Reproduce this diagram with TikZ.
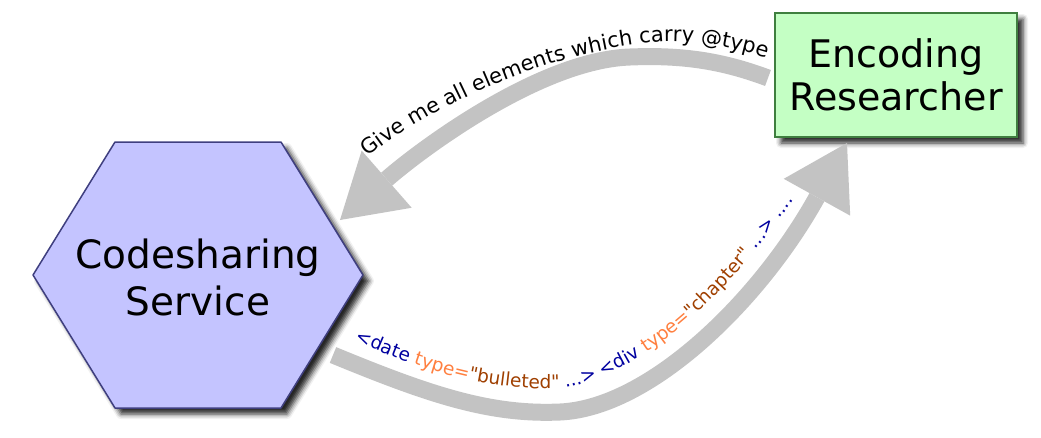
\documentclass[tikz,border=0pt]{standalone}
\usepackage{fontspec}
\setmainfont{DejaVu Sans}
\newfontfamily\codefont{DejaVu Sans}[Ligatures=ResetAll]
\usetikzlibrary{arrows.meta,shadows.blur,decorations.text}

\definecolor{hexfill}{HTML}{C4C4FF}
\definecolor{hexline}{HTML}{3F3F7F}
\definecolor{boxfill}{HTML}{C4FFC4}
\definecolor{boxline}{HTML}{3F7F3F}
\definecolor{flow}{HTML}{C3C3C3}
\definecolor{tagc}{HTML}{00009F}
\definecolor{attrc}{HTML}{FF7F3F}
\definecolor{valc}{HTML}{9F3F00}

\newcommand{\asksize}{\fontsize{21}{21}\selectfont}
\newcommand{\tagsize}{\codefont\fontsize{18.5}{18.5}\selectfont}

\begin{document}
\begin{tikzpicture}[%
x=1pt, y=-1pt,
>={Triangle[length=62pt,width=76pt,line width=0pt]},
dropshadow/.style={blur shadow={shadow xshift=6pt, shadow yshift=-6pt,
  shadow blur radius=5pt, shadow opacity=85}},
service/.style={draw=hexline, fill=hexfill, line width=1.5pt, line join=round, dropshadow},
servicetext/.style={align=center, inner sep=0pt, font=\fontsize{39}{47}\selectfont},
person/.style={rectangle, draw=boxline, fill=boxfill, line width=2pt,
  minimum width=242pt, minimum height=124pt, inner sep=0pt,
  align=center, font=\fontsize{38}{43}\selectfont, dropshadow},
flowline/.style={draw=flow, line width=17pt}
]

\useasboundingbox (0,0) rectangle (1041,437);

% hexagon of the service
\path[service] (33,275) -- (115,142) -- (281,142) -- (363,275)
  -- (281,408) -- (115,408) -- cycle;
\node[servicetext] (css) at (198,277) {Codesharing\\Service};
\node[person] (enc) at (896,75) {Encoding\\Researcher};

% request arrow
\coordinate (askA) at (768,78);
\coordinate (askB) at (630,57);
\coordinate (askC) at (340,220);
\path[flowline,->] (askA) .. controls (720,60) and (680,55) .. (askB)
  .. controls (540,60) and (420,150) .. (askC);

% answer arrow
\coordinate (ansA) at (333,355);
\coordinate (ansB) at (560,412);
\coordinate (ansC) at (847,143);
\path[flowline,->] (ansA) .. controls (430,395) and (490,415) .. (ansB)
  .. controls (650,408) and (760,300) .. (ansC);

% labels along the arrows
\coordinate (g1) at (368,157);
\coordinate (g2) at (660,42);
\coordinate (g3) at (790,66);
\path[decorate, decoration={text along path, text align=left,
  text={|\asksize|Give me all elements which carry @type}}]
  (g1) .. controls (428,108) and (550,50) .. (g2)
  .. controls (705,40) and (755,52) .. (g3);

\coordinate (t1) at (355,340);
\coordinate (t2) at (565,388);
\coordinate (t3) at (810,175);
\path[decorate, decoration={text along path, text align=left,
  text={|\tagsize\color{tagc}|<date |\tagsize\color{attrc}|type=|\tagsize\color{valc}|"bulleted"|\tagsize\color{tagc}| ...> <div |\tagsize\color{attrc}|type=|\tagsize\color{valc}|"chapter"|\tagsize\color{tagc}| ...> ....}}]
  (t1) .. controls (430,375) and (500,392) .. (t2)
  .. controls (650,370) and (735,290) .. (t3);

\end{tikzpicture}
\end{document}
